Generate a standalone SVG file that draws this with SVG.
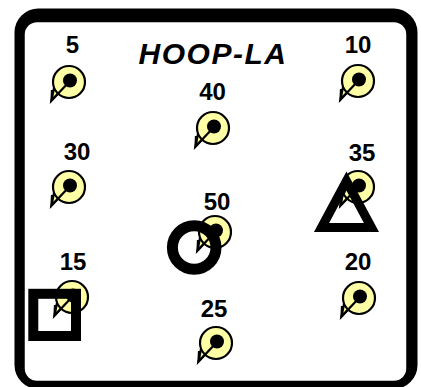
<svg xmlns="http://www.w3.org/2000/svg" xmlns:xlink="http://www.w3.org/1999/xlink" width="421" height="387" viewBox="0 0 421 387">
<style>
.lbl{font-family:"Liberation Sans",Arial,sans-serif;font-weight:bold;font-size:24px;fill:#000;text-anchor:middle}
.title{font-family:"Liberation Sans",Arial,sans-serif;font-weight:bold;font-style:italic;font-size:30px;letter-spacing:1.5px;fill:#000;text-anchor:middle}
.shape{fill:none;stroke:#000}
</style>
<defs>
<g id="pegShape">
<path d="M-15,6 L-17.5,18.5 L1,-1" fill="#ffffa5" stroke="#000" stroke-width="2.2" stroke-linejoin="miter"/>
<circle cx="0" cy="0" r="16" fill="#ffffa5" stroke="#000" stroke-width="2.2"/>
<path d="M-17,8 L-17.5,18.5 L1,-1" fill="none" stroke="#000" stroke-width="2.2"/>
<circle cx="1" cy="-1.5" r="7" fill="#000"/>
</g>
</defs>
<rect width="421" height="387" fill="#fff"/>
<g id="frame">
<rect x="18.5" y="12.5" width="395" height="372.5" rx="20" fill="#000" stroke="#000" stroke-width="8"/>
<rect x="24" y="21.5" width="383" height="360" rx="13" fill="#fff" stroke="#000" stroke-width="1.5"/>
</g>
<text id="title" class="title" x="213" y="64">HOOP-LA</text>
<g id="peg5"><use xlink:href="#pegShape" x="69" y="82"/><text class="lbl" x="72.5" y="53">5</text></g>
<g id="peg10"><use xlink:href="#pegShape" x="358" y="81"/><text class="lbl" x="358" y="53">10</text></g>
<g id="peg40"><use xlink:href="#pegShape" x="213" y="128"/><text class="lbl" x="212.5" y="100">40</text></g>
<g id="peg30"><use xlink:href="#pegShape" x="69" y="187"/><text class="lbl" x="77" y="160">30</text></g>
<g id="peg35"><use xlink:href="#pegShape" x="358" y="187"/><text class="lbl" x="362" y="161">35</text></g>
<g id="peg50"><use xlink:href="#pegShape" x="215" y="232"/><text class="lbl" x="217" y="210">50</text></g>
<g id="peg15"><use xlink:href="#pegShape" x="72" y="297"/><text class="lbl" x="73" y="270">15</text></g>
<g id="peg20"><use xlink:href="#pegShape" x="359" y="298"/><text class="lbl" x="358" y="270">20</text></g>
<g id="peg25"><use xlink:href="#pegShape" x="216" y="343"/><text class="lbl" x="214" y="317">25</text></g>
<g id="triangle"><path class="shape" d="M346.5,181 L321.5,227.5 L371.5,227.5 Z" stroke-width="9" stroke-linejoin="miter"/></g>
<g id="ring"><circle class="shape" cx="194.2" cy="247.5" r="21.8" stroke-width="11"/></g>
<g id="square"><rect class="shape" x="33.3" y="293.8" width="42.7" height="42.2" stroke-width="10"/></g>
</svg>
